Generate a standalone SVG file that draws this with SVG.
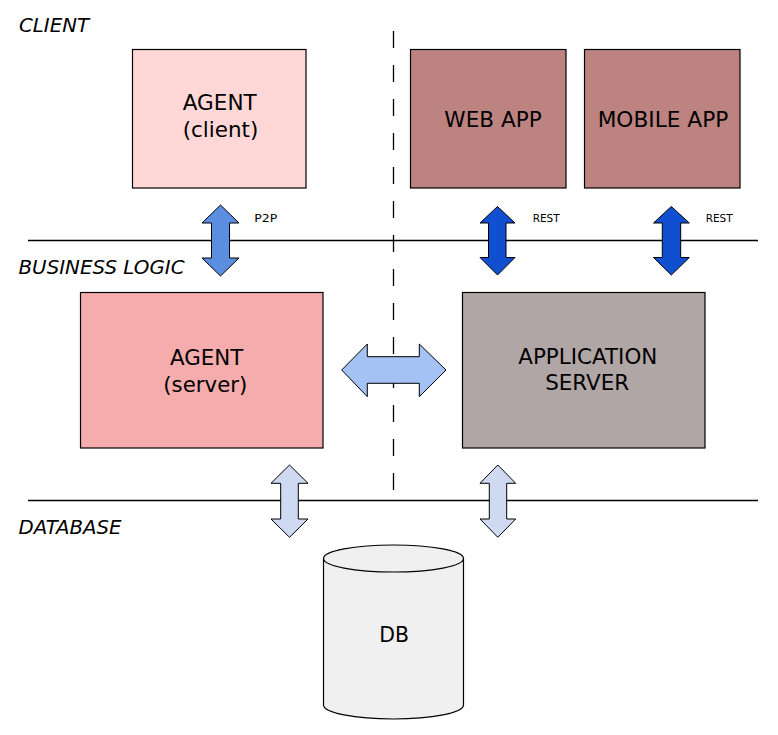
<svg xmlns="http://www.w3.org/2000/svg" width="778" height="735" viewBox="0 0 778 735">
<style>
.box{stroke:#000;stroke-width:1.2}
.t{font-family:"DejaVu Sans",sans-serif;font-size:21px;fill:#000;text-anchor:middle}
.lbl{font-family:"DejaVu Sans",sans-serif;font-size:19px;font-style:italic;fill:#000}
.sm{font-family:"DejaVu Sans",sans-serif;font-size:10.5px;fill:#000}
.arr{stroke:#000;stroke-width:1}
.sep{stroke:#000;stroke-width:1.3;fill:none}
</style>
<rect width="778" height="735" fill="#fff"/>
<g id="layers">
<text class="lbl" x="19" y="31.5" textLength="70" lengthAdjust="spacingAndGlyphs">CLIENT</text>
<text class="lbl" x="18.5" y="274" textLength="166" lengthAdjust="spacingAndGlyphs">BUSINESS LOGIC</text>
<text class="lbl" x="18.5" y="534.3" textLength="103" lengthAdjust="spacingAndGlyphs">DATABASE</text>
<line class="sep" x1="28" y1="240.5" x2="758" y2="240.5"/>
<line class="sep" x1="28" y1="500.5" x2="758" y2="500.5"/>
<line class="sep" x1="393.5" y1="31" x2="393.5" y2="490" stroke-dasharray="17 17"/>
</g>
<g id="agent-client">
<rect class="box" x="132.5" y="49.5" width="173.5" height="138.5" fill="#ffd7d7"/>
<text class="t" x="219.7" y="110" textLength="74" lengthAdjust="spacingAndGlyphs">AGENT</text>
<text class="t" x="220.5" y="137" textLength="75.6" lengthAdjust="spacingAndGlyphs">(client)</text>
</g>
<g id="web-app">
<rect class="box" x="410.5" y="49.5" width="155.5" height="138.5" fill="#bd8380"/>
<text class="t" x="493" y="127.3" textLength="97.3" lengthAdjust="spacingAndGlyphs">WEB APP</text>
</g>
<g id="mobile-app">
<rect class="box" x="584.5" y="49.5" width="155.5" height="138.5" fill="#bd8380"/>
<text class="t" x="663" y="127.3" textLength="130.7" lengthAdjust="spacingAndGlyphs">MOBILE APP</text>
</g>
<g id="agent-server">
<rect class="box" x="80.5" y="292.5" width="242.5" height="155.5" fill="#f4acac"/>
<text class="t" x="206.7" y="365" textLength="73.3" lengthAdjust="spacingAndGlyphs">AGENT</text>
<text class="t" x="205.3" y="392" textLength="84" lengthAdjust="spacingAndGlyphs">(server)</text>
</g>
<g id="app-server">
<rect class="box" x="462.5" y="292.5" width="242.5" height="155.5" fill="#b0a6a5"/>
<text class="t" x="587.8" y="363.5" textLength="139" lengthAdjust="spacingAndGlyphs">APPLICATION</text>
<text class="t" x="587.2" y="390" textLength="84" lengthAdjust="spacingAndGlyphs">SERVER</text>
</g>
<g id="db">
<path class="box" d="M323.5,558.5 L323.5,705 A70,14 0 0 0 463.5,705 L463.5,558.5 A70,13.5 0 0 0 323.5,558.5 Z" fill="#f0f0f0"/>
<path class="box" d="M323.5,558.5 A70,13.5 0 0 0 463.5,558.5" fill="none"/>
<text class="t" x="394.2" y="642.3" textLength="29.7" lengthAdjust="spacingAndGlyphs">DB</text>
</g>
<g id="connectors">
<path class="arr" fill="#5b8de0" d="M220.5,205 L239,223 L229.5,223 L229.5,258 L239,258 L220.5,276 L202,258 L211.5,258 L211.5,223 L202,223 Z"/>
<text class="sm" x="254.3" y="222" textLength="23" lengthAdjust="spacingAndGlyphs">P2P</text>
<path class="arr" fill="#1050d0" d="M497.5,206.5 L515,223 L506,223 L506,257.5 L515,257.5 L497.5,275 L480,257.5 L488.5,257.5 L488.5,223 L480,223 Z"/>
<text class="sm" x="532.7" y="222" textLength="27" lengthAdjust="spacingAndGlyphs">REST</text>
<path class="arr" fill="#1050d0" d="M671.3,206.5 L689.3,223 L680.7,223 L680.7,257.5 L689.3,257.5 L671.3,275 L653.5,257.5 L662.3,257.5 L662.3,223 L653.5,223 Z"/>
<text class="sm" x="705.7" y="222" textLength="27" lengthAdjust="spacingAndGlyphs">REST</text>
<path class="arr" fill="#a4c2f4" d="M341.7,370 L367.3,344 L367.3,356.7 L419.3,356.7 L419.3,344 L446,370 L419.3,396.7 L419.3,383.3 L367.3,383.3 L367.3,396.7 Z"/>
<path class="arr" fill="#cfd9f1" d="M289.5,465 L308,483.3 L298.3,483.3 L298.3,519 L308,519 L289.5,537.3 L271,519 L280.7,519 L280.7,483.3 L271,483.3 Z"/>
<path class="arr" fill="#cfd9f1" d="M497.8,465 L515.7,483.3 L506.7,483.3 L506.7,519 L515.7,519 L497.8,537.3 L480,519 L489.3,519 L489.3,483.3 L480,483.3 Z"/>
</g>
</svg>
